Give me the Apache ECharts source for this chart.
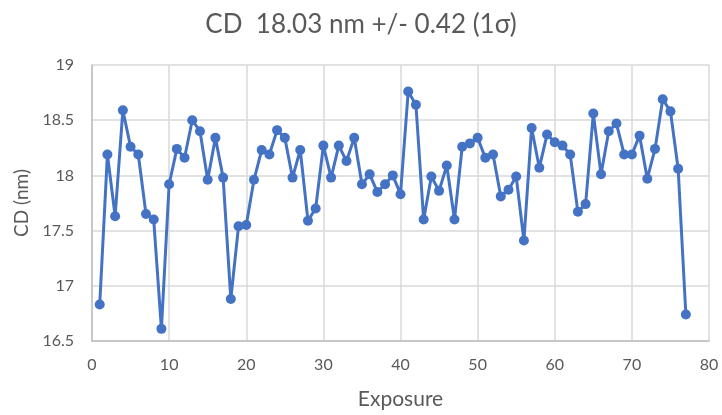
<!DOCTYPE html>
<html>
<head>
<meta charset="utf-8">
<script src="https://cdn.jsdelivr.net/npm/echarts@6/dist/echarts.min.js"></script>
<style>html,body{margin:0;padding:0;background:#fff}#c{width:722px;height:415px}</style>
</head>
<body>
<div id="c"></div>
<script>
const exposures = [];
for (let i = 1; i <= 77; i++) exposures.push(i);
const cdValues = [
  16.83, 18.19, 17.63, 18.59, 18.26, 18.19, 17.65, 17.60, 16.61, 17.92,
  18.24, 18.16, 18.50, 18.40, 17.96, 18.34, 17.98, 16.88, 17.54, 17.55,
  17.96, 18.23, 18.19, 18.41, 18.34, 17.98, 18.23, 17.59, 17.70, 18.27,
  17.98, 18.27, 18.13, 18.34, 17.92, 18.01, 17.85, 17.92, 18.00, 17.83,
  18.76, 18.64, 17.60, 17.99, 17.86, 18.09, 17.60, 18.26, 18.29, 18.34,
  18.16, 18.19, 17.81, 17.87, 17.99, 17.41, 18.43, 18.07, 18.37, 18.30,
  18.27, 18.19, 17.67, 17.74, 18.56, 18.01, 18.40, 18.47, 18.19, 18.19,
  18.36, 17.97, 18.24, 18.69, 18.58, 18.06, 16.74
];
const titleText = 'CD  18.03 nm +/- 0.42 (1σ)';
const xName = 'Exposure';
const yName = 'CD (nm)';

const font = 'Lato, "Open Sans", sans-serif';
const txt = '#595959';
const chart = echarts.init(document.getElementById('c'), null, {renderer: 'canvas'});
chart.setOption({
  animation: false,
  backgroundColor: '#fff',
  title: {
    text: titleText, left: 'center', top: 7,
    textStyle: {fontFamily: font, fontSize: 26, fontWeight: 'normal', color: txt}
  },
  grid: {left: 92, right: 13, top: 65, bottom: 67},
  xAxis: {
    type: 'value', min: 0, max: 80, interval: 10,
    name: xName, nameLocation: 'middle', nameGap: 48,
    nameTextStyle: {fontFamily: font, fontSize: 21, color: txt},
    axisLine: {lineStyle: {color: '#bfbfbf', width: 1.5}},
    axisTick: {show: false},
    axisLabel: {fontFamily: font, fontSize: 16, color: txt, margin: 16},
    splitLine: {show: true, lineStyle: {color: '#d9d9d9', width: 1.5}}
  },
  yAxis: {
    type: 'value', min: 16.5, max: 19, interval: 0.5,
    name: yName, nameLocation: 'middle', nameGap: 59, nameRotate: 90,
    nameTextStyle: {fontFamily: font, fontSize: 19, color: txt},
    axisLine: {show: true, lineStyle: {color: '#bfbfbf', width: 1.5}},
    axisTick: {show: false},
    axisLabel: {fontFamily: font, fontSize: 16, color: txt, margin: 18},
    splitLine: {show: true, lineStyle: {color: '#d9d9d9', width: 1.5}}
  },
  series: [{
    type: 'line',
    data: exposures.map((x, i) => [x, cdValues[i]]),
    symbol: 'circle', symbolSize: 10,
    lineStyle: {color: '#4472c4', width: 3},
    itemStyle: {color: '#4472c4'}
  }]
});
</script>
</body>
</html>
